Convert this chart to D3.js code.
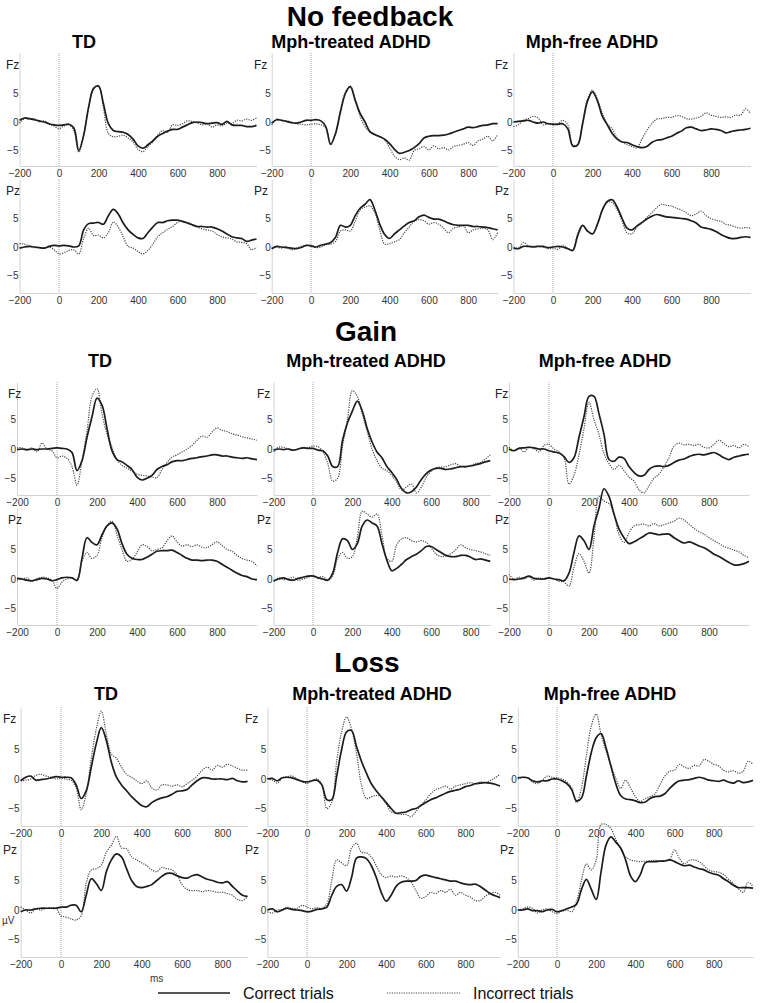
<!DOCTYPE html>
<html>
<head>
<meta charset="utf-8">
<script src="https://cdn.jsdelivr.net/npm/d3@7.9.0/dist/d3.min.js"></script>
<style>
  body { margin: 0; background: #fff; }
  svg text { font-family: "Liberation Sans", Arial, sans-serif; }
</style>
</head>
<body>
<svg id="chart" width="760" height="1003"></svg>
<script>
// labels
const conditions = ['No feedback', 'Gain', 'Loss'];
const groups = ['TD', 'Mph-treated ADHD', 'Mph-free ADHD'];
const electrodes = ['Fz', 'Pz'];
const xTicks = [-200, 0, 200, 400, 600, 800];
const yTicks = [-5, 0, 5];
const legendLabels = ['Correct trials', 'Incorrect trials'];

// sample times (ms), every 25 ms
const times = d3.range(-200, 1001, 25);

// ---- No feedback ----
const nfTdFzCor = [0.3, 0.7, 0.6, 0.4, 0.2, 0.0, -0.3, -0.5,
  -0.6, -0.5, -0.4, -1.0, -5.0, -2.3, 2.6, 5.9,
  6.3, 3.2, -0.3, -1.5, -1.7, -1.8, -2.2, -3.0,
  -4.2, -4.6, -4.0, -3.3, -2.5, -2.0, -1.6, -1.3,
  -1.3, -0.9, -0.5, -0.1, 0.0, -0.1, -0.3, -0.2,
  -0.1, -0.4, 0.1, -0.5, -0.6, -0.6, -0.8, -0.8, -0.6];
const nfTdFzInc = [-0.2, 0.6, 0.5, 0.6, 0.0, 0.2, -0.4, -0.7,
  -1.2, -0.7, -0.5, -1.5, -5.3, -2.3, 2.5, 5.8,
  6.4, 2.5, -2.0, -2.6, -2.5, -2.3, -2.8, -3.5,
  -4.8, -5.2, -4.3, -3.5, -2.3, -1.5, -1.8, -0.5,
  -0.6, -0.3, 0.2, 0.1, -0.2, -0.5, -0.3, -0.9,
  -0.5, -0.7, -0.2, -0.3, 0.3, 0.2, 0.5, 0.3, 0.7];
const nfTdPzCor = [-0.2, 0.0, 0.1, 0.0, -0.1, -0.2, 0.1, 0.3,
  0.2, 0.3, 0.2, 0.0, 0.2, 3.0, 4.1, 4.2,
  4.3, 4.0, 5.5, 6.6, 5.8, 4.2, 3.0, 2.2,
  1.6, 1.5, 2.5, 3.5, 4.3, 4.3, 4.6, 4.7,
  4.7, 4.5, 4.2, 3.9, 3.6, 3.6, 3.5, 3.5,
  3.2, 2.8, 2.3, 1.8, 1.6, 1.5, 1.0, 1.2, 1.4];
const nfTdPzInc = [0.6, 0.5, 0.2, -0.1, -0.1, -0.2, 0.0, -0.5,
  -1.2, -1.0, -0.6, -0.5, -1.2, 1.5, 3.3, 2.0,
  2.1, 1.6, 2.5, 4.4, 3.5, 1.8, 0.1, -0.2,
  -0.8, -1.2, -0.6, 0.5, 1.8, 2.5, 3.1, 3.6,
  4.3, 4.5, 4.3, 3.8, 3.5, 3.2, 3.0, 2.8,
  2.2, 1.8, 1.6, 1.4, 0.9, 0.8, 0.6, -0.5, 0.0];
const nfMtFzCor = [-0.2, 0.4, 0.3, 0.1, -0.1, -0.2, 0.0, 0.3,
  0.3, 0.4, 0.2, -0.8, -3.9, -2.0, 1.8, 5.0,
  6.2, 3.8, 1.5, 0.0, -1.7, -2.2, -2.6, -3.0,
  -3.8, -4.8, -5.5, -5.3, -5.0, -4.5, -3.8, -2.8,
  -2.5, -2.4, -2.4, -2.3, -2.1, -1.8, -1.5, -1.2,
  -0.9, -1.0, -0.8, -0.6, -0.5, -0.3, -0.3];
const nfMtFzInc = [-0.5, 0.5, 0.3, 0.2, 0.0, -0.3, -0.4, -0.5,
  -0.4, -0.3, -0.5, -1.0, -4.0, -2.0, 2.0, 5.2,
  6.3, 4.0, 1.0, -0.8, -1.8, -2.3, -2.5, -3.2,
  -4.5, -6.0, -6.6, -6.3, -6.7, -5.0, -4.7, -4.3,
  -4.9, -4.2, -4.7, -4.5, -4.9, -4.3, -4.1, -3.9,
  -3.6, -4.1, -3.3, -3.0, -2.5, -3.3, -2.2];
const nfMtPzCor = [-0.3, 0.1, 0.0, -0.1, -0.2, -0.3, -0.1, 0.3,
  0.2, 0.0, 0.3, 0.5, 0.8, 1.7, 3.8, 3.5,
  3.8, 5.5, 6.8, 7.5, 8.3, 6.5, 4.0, 2.2,
  1.5, 2.3, 3.0, 3.7, 4.3, 4.6, 5.3, 5.6,
  5.2, 4.9, 4.9, 4.6, 4.2, 3.9, 3.8, 3.8,
  3.8, 3.6, 3.6, 3.5, 3.4, 3.2, 3.0];
const nfMtPzInc = [-0.2, 0.0, -0.2, 0.1, -0.5, -0.2, 0.1, 0.2,
  0.3, -0.1, 0.0, 0.4, 0.5, 1.0, 2.8, 3.0,
  2.8, 4.5, 6.5, 7.0, 7.2, 6.0, 3.0, 0.5,
  0.6, 0.9, 1.3, 2.5, 3.5, 4.5, 4.8, 4.6,
  4.0, 4.3, 4.0, 3.3, 2.5, 3.3, 3.5, 3.8,
  2.5, 3.0, 3.2, 3.3, 3.0, 1.3, 2.5];
const nfMfFzCor = [0.0, 0.1, 0.2, 0.3, 0.0, -0.2, 0.0, -0.3,
  -0.4, -0.4, -0.3, -1.2, -4.2, -4.0, -0.3, 3.7,
  5.3, 3.7, 1.0, -0.5, -2.0, -3.0, -3.5, -3.6,
  -4.0, -4.3, -4.5, -4.3, -3.6, -3.2, -3.1, -2.8,
  -2.5, -2.0, -1.6, -1.0, -0.9, -1.2, -1.5, -1.4,
  -1.2, -1.3, -1.5, -1.9, -1.7, -1.5, -1.4, -1.3, -1.1];
const nfMfFzInc = [-0.8, -0.5, 0.3, 0.6, 1.0, 0.7, -0.5, -0.3,
  -0.3, -0.3, 0.3, -0.5, -4.0, -4.0, 0.0, 4.0,
  5.6, 4.0, 1.5, -0.3, -1.2, -2.8, -3.5, -4.0,
  -4.3, -4.5, -3.0, -1.5, -0.3, 0.5, 0.6, 0.8,
  0.8, 1.1, 1.0, 0.6, 0.5, 0.7, 1.0, 1.6,
  1.2, 1.0, 0.8, 0.9, 0.8, 1.2, 1.2, 2.3, 1.5];
const nfMfPzCor = [-0.2, -0.3, 0.1, 0.1, 0.0, 0.1, 0.1, -0.1,
  0.0, 0.1, 0.0, -0.3, -0.6, 2.0, 3.8, 2.8,
  2.3, 4.0, 6.5, 8.0, 8.3, 7.0, 5.0, 3.3,
  3.0, 3.7, 4.3, 4.9, 5.4, 5.7, 5.5, 5.3,
  5.2, 5.1, 5.0, 4.9, 4.6, 4.2, 3.5, 3.3,
  3.1, 2.7, 2.2, 1.8, 1.5, 1.5, 1.7, 1.8, 1.7];
const nfMfPzInc = [0.0, -0.2, 0.8, 0.2, 0.1, 0.1, 0.0, -0.3,
  -0.2, -0.4, 0.3, -0.3, -0.5, 2.3, 3.8, 2.7,
  2.3, 4.0, 6.5, 7.8, 7.8, 6.5, 4.5, 2.5,
  2.3, 3.5, 4.2, 5.2, 6.0, 6.9, 7.5, 7.3,
  7.2, 6.8, 6.5, 6.0, 5.5, 5.8, 6.3, 5.5,
  5.0, 4.7, 4.5, 4.0, 3.8, 3.5, 3.3, 3.4, 3.3];

// ---- Gain ----
const gainTdFzCor = [-0.1, 0.0, -0.1, 0.0, -0.1, 0.0, 0.0, 0.1,
  0.2, 0.1, 0.0, -0.6, -3.7, -2.0, 2.0, 5.5,
  8.7, 7.5, 3.5, -0.3, -1.8, -2.2, -2.8, -3.5,
  -4.8, -5.3, -5.0, -4.5, -3.5, -3.0, -2.7, -2.2,
  -2.0, -2.0, -1.8, -1.6, -1.5, -1.3, -1.2, -1.0,
  -1.0, -1.2, -1.2, -1.4, -1.5, -1.6, -1.5, -1.7, -1.8];
const gainTdFzInc = [0.2, 0.2, -0.2, 0.2, -0.5, 1.0, 0.0, -0.3,
  -1.5, -1.2, -1.6, -3.0, -6.2, -2.0, 3.0, 9.0,
  10.3, 6.0, 2.5, 0.3, -1.8, -2.8, -3.3, -3.8,
  -4.3, -4.5, -4.6, -4.8, -4.9, -3.5, -2.3, -1.4,
  -1.0, -0.5, 0.0, 0.6, 1.5, 2.2, 2.0, 2.9,
  3.6, 3.2, 3.0, 2.6, 2.4, 2.1, 1.9, 1.7, 1.5];
const gainTdPzCor = [0.1, 0.0, -0.2, -0.3, -0.1, 0.1, 0.0, -0.3,
  -0.1, 0.2, 0.3, 0.2, -0.2, 3.5, 7.0, 6.2,
  5.8, 7.5, 9.0, 9.5, 8.5, 6.0, 4.2, 3.5,
  3.3, 3.3, 3.7, 4.2, 4.7, 4.8, 4.8, 4.9,
  4.5, 4.0, 3.5, 3.2, 3.2, 3.1, 3.2, 3.2,
  3.0, 2.5, 2.0, 1.5, 1.0, 0.6, 0.4, 0.0, -0.1];
const gainTdPzInc = [-0.2, 0.0, 0.2, -0.4, 0.1, 0.3, 0.2, -0.2,
  -1.6, -0.5, 0.0, 0.2, -0.3, 3.0, 4.5, 3.5,
  4.0, 7.0, 9.0, 9.8, 7.5, 5.0, 3.0, 3.3,
  4.5, 5.8, 5.5, 4.8, 5.0, 5.3, 6.5, 7.3,
  6.3, 5.6, 5.8, 5.5, 5.8, 5.4, 5.3, 5.8,
  6.3, 5.7, 5.0, 4.7, 4.0, 3.5, 3.2, 3.0, 2.2];
const gainMtFzCor = [-0.2, 0.0, -0.1, 0.0, -0.2, 0.0, 0.2, 0.1,
  0.1, -0.2, -0.3, -1.2, -3.0, -3.0, 1.5, 4.5,
  6.5, 8.2, 6.5, 3.5, 1.2, -0.5, -1.5, -3.0,
  -4.0, -5.2, -6.8, -7.5, -7.3, -6.5, -5.2, -4.2,
  -3.6, -3.3, -3.3, -3.5, -3.4, -3.2, -3.0, -3.0,
  -2.9, -2.7, -2.5, -2.2, -2.0];
const gainMtFzInc = [-0.5, 0.3, 0.3, 0.0, -0.2, 0.0, 0.3, 0.2,
  0.5, 0.4, -0.5, -2.5, -5.5, -5.0, 0.5, 5.0,
  10.0, 9.0, 6.0, 3.0, 0.0, -2.0, -3.3, -3.7,
  -4.5, -5.7, -7.0, -6.5, -6.0, -7.5, -6.5, -4.8,
  -3.8, -3.2, -3.1, -3.0, -2.7, -2.5, -3.0, -3.1,
  -2.8, -2.5, -2.3, -1.7, -1.0];
const gainMtPzCor = [-0.3, 0.0, 0.2, -0.1, -0.2, 0.1, 0.3, 0.5,
  0.5, 0.2, 0.0, -0.2, 1.0, 4.5, 6.8, 6.5,
  5.0, 6.0, 9.0, 10.0, 9.5, 9.0, 6.0, 3.2,
  1.4, 1.8, 2.5, 3.3, 3.8, 4.2, 4.8, 5.5,
  5.5, 5.0, 4.5, 4.0, 3.8, 3.8, 4.0, 4.0,
  3.7, 3.3, 3.4, 3.2, 3.0];
const gainMtPzInc = [-0.5, 0.2, -0.1, 0.0, 0.3, -0.2, 0.0, 0.3,
  0.6, 0.3, 0.4, -0.1, 0.5, 3.5, 4.5, 3.5,
  3.8, 7.0, 11.5, 11.0, 10.5, 11.0, 7.5, 3.5,
  3.0, 5.8, 6.8, 7.0, 6.5, 6.3, 6.5, 6.2,
  5.3, 4.2, 3.8, 3.9, 4.3, 5.0, 5.8, 5.3,
  5.0, 4.8, 4.6, 4.3, 4.0];
const gainMfFzCor = [0.0, -0.3, 0.1, 0.2, 0.3, 0.2, 0.0, 0.0,
  -0.3, -0.5, -0.7, -1.3, -2.3, -1.5, 2.0, 5.5,
  9.0, 9.0, 6.0, 2.5, -1.8, -2.1, -1.4, -1.6,
  -3.0, -4.0, -4.6, -4.5, -3.5, -3.0, -2.9, -3.0,
  -2.8, -2.3, -1.9, -1.7, -1.3, -1.0, -0.9, -1.0,
  -0.8, -0.6, -1.0, -1.5, -1.8, -1.4, -1.2, -1.0, -0.9];
const gainMfFzInc = [0.3, -0.3, 0.2, -0.5, 0.3, 0.1, -0.5, 0.6,
  0.8, 0.0, -0.5, -1.5, -6.0, -4.5, -1.0, 3.5,
  8.0, 5.0, 2.5, -0.8, -2.5, -3.5, -2.8, -3.7,
  -4.8, -5.5, -7.0, -7.5, -6.3, -5.0, -4.3, -3.0,
  -1.5, 0.5, 1.0, 0.7, 0.8, 0.6, 0.8, 0.3,
  0.2, 0.8, 1.5, 0.9, 0.4, 0.6, 0.2, 0.8, 0.4];
const gainMfPzCor = [0.0, -0.1, 0.0, 0.2, 0.5, 0.1, 0.0, 0.0,
  0.2, 0.0, -0.1, -0.3, 1.0, 4.5, 7.3, 6.5,
  5.0, 9.0, 12.0, 15.3, 14.0, 11.0, 8.5, 7.0,
  6.0, 6.3, 6.8, 7.3, 7.8, 7.7, 7.5, 7.6,
  7.6, 7.0, 6.5, 6.1, 6.3, 6.0, 5.6, 5.3,
  4.8, 4.2, 3.8, 3.3, 2.8, 2.4, 2.4, 2.6, 3.0];
const gainMfPzInc = [0.8, 0.0, 0.3, 0.0, 0.4, -0.2, 0.2, 0.0,
  0.2, 0.0, -0.4, -0.5, -1.2, 2.0, 4.3, 3.0,
  1.0, 7.0, 14.0, 13.2, 12.8, 11.0, 7.5, 6.2,
  7.8, 9.0, 9.2, 9.3, 9.0, 9.4, 9.0, 9.2,
  9.5, 9.8, 10.3, 10.0, 9.3, 8.6, 8.0, 7.6,
  7.0, 6.5, 6.0, 5.5, 5.2, 4.9, 4.6, 4.0, 3.6];

// ---- Loss ----
const lossTdFzCor = [-0.3, 0.3, 0.5, -0.2, -0.1, 0.0, 0.2, 0.4,
  0.3, 0.3, 0.2, -1.0, -3.3, -2.0, 2.0, 6.0,
  8.7, 6.5, 2.8, 0.3, -1.0, -2.0, -3.0, -3.8,
  -4.5, -4.7, -4.0, -3.5, -3.2, -3.0, -2.6, -2.1,
  -2.0, -1.8, -1.0, -0.3, 0.2, 0.2, 0.0, 0.0,
  0.0, -0.1, 0.1, -0.3, -0.5, -0.4];
const lossTdFzInc = [-0.3, -0.2, 0.0, 0.6, 0.8, 0.5, 0.3, 0.0,
  0.1, 0.0, -0.2, -1.5, -5.2, -2.5, 3.5, 8.5,
  11.5, 7.5, 4.2, 3.5, 2.0, 0.8, 0.3, -0.3,
  -0.8, -0.3, -1.5, -1.9, -1.0, -1.0, -1.2, -1.0,
  -1.3, -0.8, -0.2, 0.5, 1.5, 2.0, 1.5, 2.3,
  2.0, 2.5, 2.2, 1.8, 1.5, 1.5];
const lossTdPzCor = [-0.3, 0.0, 0.0, 0.2, 0.3, 0.3, 0.3, 0.3,
  0.5, 0.5, 0.8, 0.8, -0.3, 2.5, 5.3, 4.5,
  3.3, 6.5, 8.5, 9.5, 9.0, 7.0, 5.0, 4.0,
  3.8, 4.0, 4.3, 5.0, 5.7, 6.2, 6.2, 5.8,
  5.5, 5.4, 5.8, 6.0, 5.6, 5.2, 5.0, 4.7,
  4.6, 4.8, 4.0, 3.2, 2.5, 2.3];
const lossTdPzInc = [0.5, 0.0, -0.5, 0.2, 0.0, 0.3, 0.4, 0.3,
  -1.0, -1.2, -1.5, -1.7, -1.0, 4.5, 6.8, 7.0,
  7.6, 9.8, 11.0, 12.5, 10.5, 10.4, 9.0, 8.5,
  8.0, 7.5, 6.8, 6.5, 7.2, 7.0, 6.8, 6.0,
  4.3, 3.5, 3.3, 3.3, 3.1, 3.3, 3.2, 3.0,
  3.0, 2.8, 2.5, 1.8, 1.6, 2.3];
const lossMtFzCor = [0.0, 0.1, -0.3, 0.2, 0.3, 0.2, -0.1, -0.4,
  -0.5, -0.3, -0.2, -1.0, -3.5, -3.5, 0.5, 5.0,
  8.0, 8.2, 5.5, 3.0, 1.0, -0.8, -2.0, -3.0,
  -4.0, -5.0, -5.8, -5.7, -5.6, -5.2, -5.0, -4.5,
  -4.0, -3.5, -3.2, -2.8, -2.4, -2.1, -1.9, -1.7,
  -1.3, -1.1, -0.8, -0.7, -0.6, -0.7, -0.9, -1.2];
const lossMtFzInc = [0.1, -0.2, -0.7, 0.2, 0.4, 0.5, 0.0, -0.4,
  -0.8, -0.3, 0.0, -1.0, -5.0, -4.0, 3.0, 8.0,
  10.5, 8.5, 4.4, -1.0, -3.3, -3.0, -2.8, -3.0,
  -4.2, -5.6, -5.8, -6.0, -6.0, -6.4, -5.5, -4.5,
  -3.5, -2.5, -1.8, -1.5, -1.2, -1.7, -1.2, -1.0,
  -0.8, -0.6, -0.8, -0.5, -0.6, -0.3, 0.2, 0.8];
const lossMtPzCor = [0.0, 0.2, -0.3, 0.0, 0.3, 0.1, 0.0, -0.1,
  -0.3, -0.2, 0.1, 0.2, 0.5, 2.5, 4.0, 4.3,
  3.2, 5.5, 8.8, 9.0, 8.7, 7.5, 5.5, 3.0,
  1.5, 2.5, 4.0, 4.7, 4.9, 4.9, 5.0, 5.7,
  5.9, 5.7, 5.5, 5.3, 5.1, 4.9, 4.9, 4.6,
  4.4, 4.3, 4.4, 4.0, 3.4, 2.8, 2.4, 2.1];
const lossMtPzInc = [-0.3, -0.5, 0.0, 0.1, 0.5, 0.2, 0.3, 0.8,
  0.5, 0.2, 0.4, 0.3, 1.0, 5.0, 8.5, 8.0,
  7.5, 10.5, 11.3, 9.8, 9.7, 9.0, 7.5, 6.0,
  5.5, 5.8, 5.6, 5.8, 5.5, 4.8, 3.3, 2.0,
  2.3, 3.0, 2.8, 3.3, 3.0, 3.5, 2.5, 3.0,
  2.5, 2.2, 1.6, 1.6, 2.3, 2.8, 3.0, 2.5];
const lossMfFzCor = [0.2, 0.3, 0.2, -0.3, -0.5, -0.3, -0.3, 0.0,
  0.0, -0.3, -0.8, -1.8, -3.7, -3.2, 0.5, 4.5,
  7.0, 7.7, 5.3, 2.2, -0.8, -2.8, -3.4, -3.5,
  -3.7, -4.0, -3.9, -3.3, -3.0, -2.9, -2.5, -1.6,
  -0.8, -0.3, -0.2, -0.1, 0.1, 0.3, 0.1, -0.2,
  -0.3, -0.4, -0.2, -0.5, -0.7, -0.3, -0.6, -0.5, -0.2];
const lossMfFzInc = [0.0, 0.3, 0.2, -0.5, -0.8, -0.2, 0.5, 0.3,
  0.2, 0.0, -0.5, -1.5, -4.0, -1.5, 4.0, 9.0,
  11.0, 7.5, 4.8, 2.3, 0.1, -1.6, -0.2, -1.5,
  -3.0, -3.8, -3.3, -3.0, -2.5, -1.0, 0.5, 1.3,
  1.5, 2.5, 2.0, 1.8, 2.3, 2.2, 3.3, 3.0,
  2.5, 2.2, 1.5, 1.2, 1.4, 1.0, 1.3, 3.0, 2.5];
const lossMfPzCor = [0.0, 0.0, 0.2, -0.1, -0.1, -0.3, 0.0, 0.1,
  -0.3, -0.1, 0.2, 0.5, 1.0, 3.5, 5.2, 3.5,
  1.8, 6.5, 11.0, 12.4, 11.5, 10.5, 8.5, 5.8,
  4.8, 6.0, 8.0, 8.2, 8.2, 8.3, 8.3, 8.5,
  8.2, 7.8, 7.5, 7.6, 7.3, 7.0, 6.8, 6.4,
  6.1, 5.9, 5.3, 4.8, 4.2, 3.8, 3.8, 3.8, 3.7];
const lossMfPzInc = [0.0, 0.2, 0.5, 0.3, -0.5, 0.0, 0.2, -0.3,
  -0.6, -0.2, 0.0, -0.3, 1.5, 5.0, 7.8, 6.8,
  8.5, 14.5, 14.5, 13.8, 12.0, 10.3, 9.0, 8.5,
  8.3, 8.2, 8.3, 8.3, 8.4, 8.3, 8.4, 8.6,
  10.2, 8.7, 7.8, 8.4, 8.5, 8.2, 7.5, 6.8,
  6.5, 6.4, 6.0, 5.2, 4.5, 3.6, 3.0, 4.7, 4.0];

// [condition][group][electrode] -> [correct, incorrect]
const waves = [
  [[[nfTdFzCor, nfTdFzInc], [nfTdPzCor, nfTdPzInc]],
   [[nfMtFzCor, nfMtFzInc], [nfMtPzCor, nfMtPzInc]],
   [[nfMfFzCor, nfMfFzInc], [nfMfPzCor, nfMfPzInc]]],
  [[[gainTdFzCor, gainTdFzInc], [gainTdPzCor, gainTdPzInc]],
   [[gainMtFzCor, gainMtFzInc], [gainMtPzCor, gainMtPzInc]],
   [[gainMfFzCor, gainMfFzInc], [gainMfPzCor, gainMfPzInc]]],
  [[[lossTdFzCor, lossTdFzInc], [lossTdPzCor, lossTdPzInc]],
   [[lossMtFzCor, lossMtFzInc], [lossMtPzCor, lossMtPzInc]],
   [[lossMfFzCor, lossMfFzInc], [lossMfPzCor, lossMfPzInc]]]
];

// page layout for each block (pixels)
const layout = [
  { titleX: 370, titleY: 26, groupY: 48, groupX: [84, 351, 592],
    x0: [59, 311, 553], ppm: [0.1975, 0.1965, 0.1975], tmax: [1000, 950, 1000],
    labelX: [6, 254, 495],
    rows: [{ zero: 122, k: 5.7, top: 53, bottom: 166 },
           { zero: 247, k: 5.7, top: 179, bottom: 293 }] },
  { titleX: 366, titleY: 341, groupY: 367, groupX: [100, 366, 605],
    x0: [57, 313, 549], ppm: [0.2, 0.197, 0.2], tmax: [1000, 900, 1000],
    labelX: [8, 257, 495],
    rows: [{ zero: 449, k: 5.85, top: 382, bottom: 495 },
           { zero: 579, k: 5.9, top: 508, bottom: 625 }] },
  { titleX: 367, titleY: 672, groupY: 700, groupX: [106, 372, 610],
    x0: [61, 307, 557], ppm: [0.2017, 0.198, 0.196], tmax: [925, 975, 1000],
    labelX: [3, 245, 500],
    rows: [{ zero: 779, k: 5.9, top: 707, bottom: 826 },
           { zero: 910, k: 5.9, top: 838, bottom: 957 }] }
];

const svg = d3.select('#chart');

const solidColor = '#1c1c1c';
const dotColor = '#4a4a4a';

conditions.forEach((cond, ci) => {
  const L = layout[ci];

  svg.append('text')
    .attr('x', L.titleX).attr('y', L.titleY)
    .attr('text-anchor', 'middle')
    .attr('font-size', 28).attr('font-weight', 'bold')
    .text(cond);

  groups.forEach((grp, gi) => {
    svg.append('text')
      .attr('x', L.groupX[gi]).attr('y', L.groupY)
      .attr('text-anchor', 'middle')
      .attr('font-size', 18).attr('font-weight', 'bold')
      .text(grp);

    const x0 = L.x0[gi], ppm = L.ppm[gi], tmax = L.tmax[gi];
    const x = d3.scaleLinear()
      .domain([-200, tmax])
      .range([x0 - 200 * ppm, x0 + tmax * ppm]);

    electrodes.forEach((el, ei) => {
      const R = L.rows[ei];
      const y = d3.scaleLinear()
        .domain([-(R.bottom - R.zero) / R.k, (R.zero - R.top) / R.k])
        .range([R.bottom, R.top]);

      const g = svg.append('g');

      // x axis
      const xa = g.append('g')
        .attr('transform', `translate(0,${R.bottom})`)
        .call(d3.axisBottom(x).tickValues(xTicks).tickSize(0).tickSizeOuter(0).tickPadding(4));
      xa.select('.domain').attr('stroke', '#d4d4d4');
      xa.selectAll('text').attr('font-size', 10).attr('fill', '#333')
        .attr('font-family', '"Liberation Sans", Arial, sans-serif');

      // y axis
      const ya = g.append('g')
        .attr('transform', `translate(${x(-200)},0)`)
        .call(d3.axisLeft(y).tickValues(yTicks).tickSize(0).tickSizeOuter(0).tickPadding(1));
      ya.select('.domain').attr('stroke', '#d4d4d4');
      ya.selectAll('text').attr('font-size', 10).attr('fill', '#333')
        .attr('font-family', '"Liberation Sans", Arial, sans-serif');

      // stimulus onset
      g.append('line')
        .attr('x1', x(0)).attr('x2', x(0))
        .attr('y1', R.top).attr('y2', R.bottom)
        .attr('stroke', '#9a9a9a').attr('stroke-width', 0.9)
        .attr('stroke-dasharray', '1,1');

      g.append('text')
        .attr('x', L.labelX[gi]).attr('y', R.top + 16)
        .attr('font-size', 12).attr('fill', '#222')
        .text(el);

      const line = d3.line()
        .x((d, i) => x(times[i]))
        .y(d => y(d))
        .curve(d3.curveCatmullRom.alpha(0.5));

      const [cor, inc] = waves[ci][gi][ei];

      g.append('path')
        .attr('d', line(inc))
        .attr('fill', 'none')
        .attr('stroke', dotColor)
        .attr('stroke-width', 1.2)
        .attr('stroke-dasharray', '1.2,1.2');

      g.append('path')
        .attr('d', line(cor))
        .attr('fill', 'none')
        .attr('stroke', solidColor)
        .attr('stroke-width', 1.7);
    });
  });
});

// unit labels
svg.append('text').attr('x', 2).attr('y', 924)
  .attr('font-size', 10).attr('fill', '#333').text('µV');
svg.append('text').attr('x', 150).attr('y', 982)
  .attr('font-size', 10).attr('fill', '#333').text('ms');

// legend
const legend = svg.append('g');
legend.append('line')
  .attr('x1', 158).attr('x2', 230).attr('y1', 993).attr('y2', 993)
  .attr('stroke', solidColor).attr('stroke-width', 1.7);
legend.append('text').attr('x', 243).attr('y', 999)
  .attr('font-size', 16).attr('fill', '#111').text(legendLabels[0]);
legend.append('line')
  .attr('x1', 387).attr('x2', 460).attr('y1', 993).attr('y2', 993)
  .attr('stroke', dotColor).attr('stroke-width', 1.2)
  .attr('stroke-dasharray', '1.2,1.2');
legend.append('text').attr('x', 473).attr('y', 999)
  .attr('font-size', 16).attr('fill', '#111').text(legendLabels[1]);
</script>
</body>
</html>
